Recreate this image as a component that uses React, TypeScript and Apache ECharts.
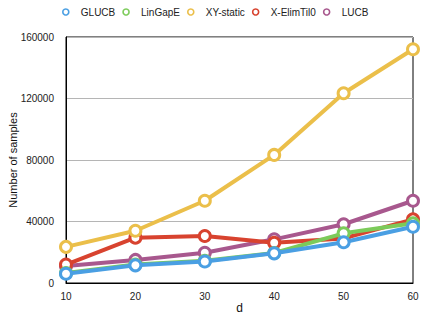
import React, { useEffect, useRef } from "react";
import * as echarts from "echarts";

const categories = ["10", "20", "30", "40", "50", "60"];
const seriesNames = ["GLUCB", "LinGapE", "XY-static", "X-ElimTil0", "LUCB"];
const glucb = [6000, 11500, 14000, 19300, 26500, 36600];
const lingape = [6500, 12000, 14500, 19500, 32300, 38800];
const xyStatic = [23500, 34000, 53500, 83300, 123400, 152000];
const xElimTil0 = [12000, 29500, 30600, 26200, 29000, 41400];
const lucb = [11000, 15000, 19700, 28400, 38200, 53500];

const colors = ["#4a9fe3", "#7ccb5a", "#ebbf4a", "#d8432f", "#a8588e"];
const values = [glucb, lingape, xyStatic, xElimTil0, lucb];
const FONT = "Liberation Sans";

export default function App() {
  const ref = useRef<HTMLDivElement>(null);
  useEffect(() => {
    const chart = echarts.init(ref.current!, null, { renderer: "svg" });
    const series = seriesNames.map((name, i) => ({
      name,
      type: "line",
      data: values[i],
      z: 10 - i,
      symbol: "circle",
      symbolSize: 11,
      lineStyle: { width: 4, color: colors[i] },
      itemStyle: { color: "#ffffff", borderColor: colors[i], borderWidth: 3 },
      emphasis: { disabled: true },
    }));
    chart.setOption({
      animation: false,
      color: colors,
      textStyle: { fontFamily: FONT },
      legend: {
        data: seriesNames.map((n, i) => ({
          name: n,
          icon: "circle",
          itemStyle: { color: "#ffffff", borderColor: colors[i], borderWidth: 1.6 },
        })),
        top: 2,
        left: 57,
        itemWidth: 20,
        itemHeight: 6,
        itemGap: 7,
        textStyle: { fontSize: 10, color: "#222", fontFamily: FONT },
      },
      grid: {
        left: 66,
        right: 8,
        top: 37,
        bottom: 38,
        show: true,
        borderColor: "#000",
        borderWidth: 1,
        containLabel: false,
        outerBoundsMode: "none",
      },
      xAxis: {
        type: "category",
        data: categories,
        boundaryGap: false,
        name: "d",
        nameLocation: "middle",
        nameGap: 19,
        nameMoveOverlap: false,
        nameTextStyle: { fontSize: 12, color: "#111", fontFamily: FONT },
        axisLine: { lineStyle: { color: "#000" } },
        axisTick: { show: false },
        axisLabel: { fontSize: 10, color: "#222", margin: 8, fontFamily: FONT },
        splitLine: { show: false },
      },
      yAxis: {
        type: "value",
        min: 0,
        max: 160000,
        interval: 40000,
        name: "Number of samples",
        nameLocation: "middle",
        nameGap: 48,
        nameMoveOverlap: false,
        nameTextStyle: { fontSize: 11, color: "#111", fontFamily: FONT },
        axisLine: { show: true, lineStyle: { color: "#000" } },
        axisTick: { show: false },
        axisLabel: {
          fontSize: 10,
          color: "#222",
          margin: 12,
          fontFamily: FONT,
          formatter: (v: number) => String(v),
        },
        splitLine: { lineStyle: { color: "#b5b5b5" } },
      },
      series,
    });
    return () => chart.dispose();
  }, []);
  return <div ref={ref} style={{ width: 421, height: 321, position: "absolute", left: 0, top: 0 }} />;
}
